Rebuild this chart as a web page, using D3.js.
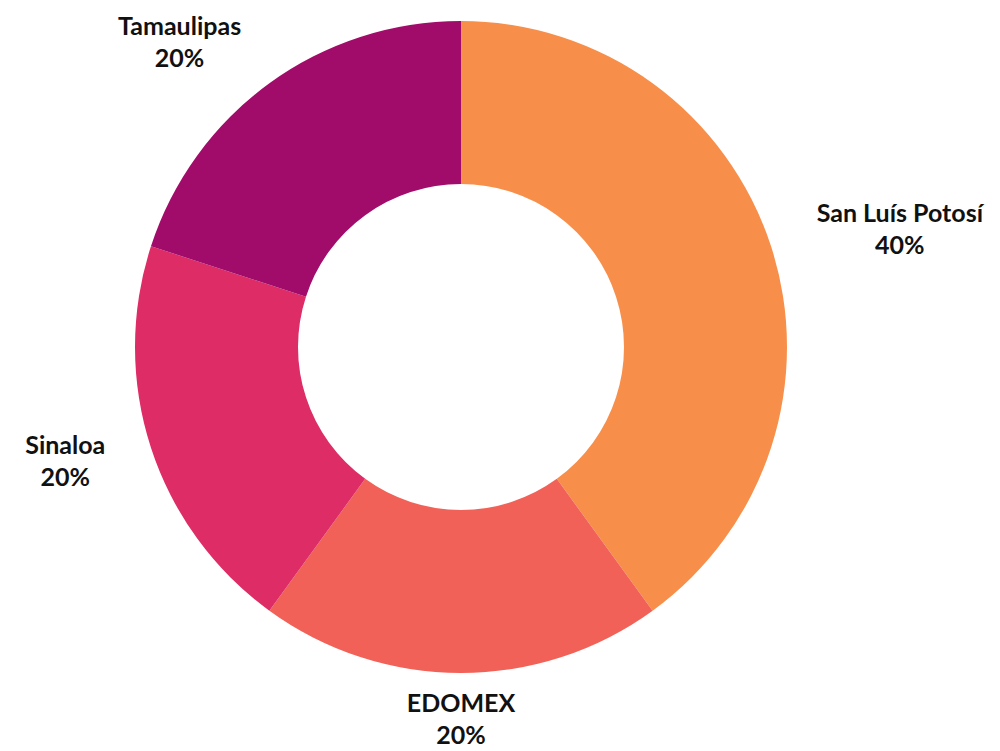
<!DOCTYPE html>
<html>
<head>
<meta charset="utf-8">
<script src="https://cdn.jsdelivr.net/npm/d3@7"></script>
<style>
  html, body { margin: 0; padding: 0; background: #fff; }
  svg { display: block; }
  .label { font-family: "Lato", "Open Sans", sans-serif; font-weight: 700; font-size: 25px; fill: #111; }
</style>
</head>
<body>
<div id="chart"></div>
<script>
// chart data
const states = ['San Luís Potosí', 'EDOMEX', 'Sinaloa', 'Tamaulipas'];
const shares = [40, 20, 20, 20];
const colors = ['#F78F4A', '#F26157', '#DD2C66', '#A10B6A'];

const width = 1000, height = 751;
const cx = 461, cy = 347;
const outerR = 326, innerR = 163;
const labelR = 374;

const svg = d3.select('#chart')
    .append('svg')
    .attr('width', width)
    .attr('height', height);

const g = svg.append('g').attr('transform', `translate(${cx},${cy})`);

const pie = d3.pie().sort(null).value(d => d.value);
const arc = d3.arc().innerRadius(innerR).outerRadius(outerR);

const data = states.map((s, i) => ({ name: s, value: shares[i], color: colors[i] }));
const arcs = pie(data);

g.selectAll('path.slice')
    .data(arcs)
    .enter()
    .append('path')
    .attr('class', 'slice')
    .attr('d', arc)
    .attr('fill', d => d.data.color);

// labels: two centred lines, block pushed outward from an anchor point
const labels = g.selectAll('g.label')
    .data(arcs)
    .enter()
    .append('g')
    .attr('class', 'label');

labels.each(function(d) {
    const el = d3.select(this);
    const t1 = el.append('text').attr('text-anchor', 'middle').attr('y', -9).text(d.data.name);
    const t2 = el.append('text').attr('text-anchor', 'middle').attr('y', 23).text(d.data.value + '%');
    const w = Math.max(t1.node().getComputedTextLength(), t2.node().getComputedTextLength());
    const a = (d.startAngle + d.endAngle) / 2;
    const sx = Math.sin(a), sy = -Math.cos(a);
    let x = labelR * sx;
    let y = labelR * sy;
    if (sx > 0.2) x += w / 2;
    else if (sx < -0.2) x -= w / 2;
    el.attr('transform', `translate(${x},${y})`);
});
</script>
</body>
</html>
